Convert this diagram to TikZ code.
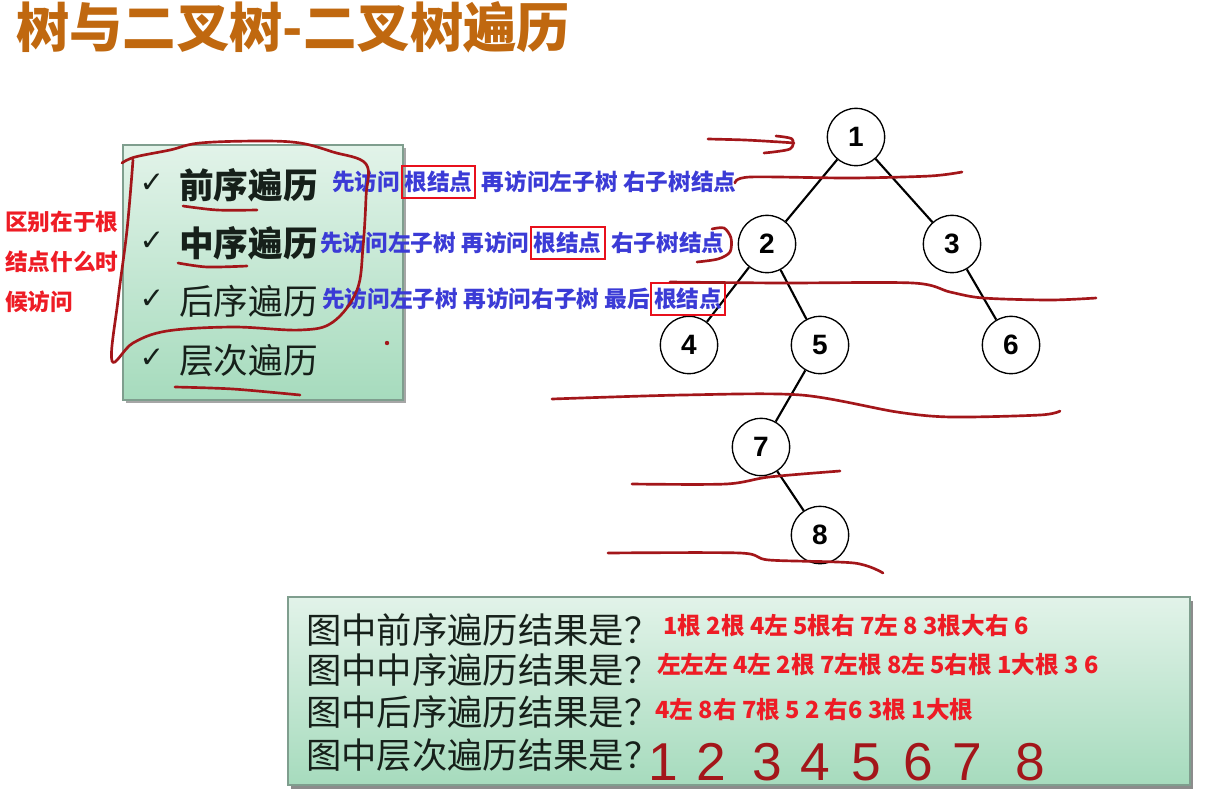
\documentclass[tikz,border=0pt]{standalone}
\usepackage{fontspec}
\setmainfont{Noto Sans CJK SC}
\newfontfamily\dv{DejaVu Sans}
\newfontfamily\lib{Liberation Sans}
\definecolor{titlec}{HTML}{C0680F}
\definecolor{inkred}{HTML}{A3161A}
\definecolor{ansred}{HTML}{EE1C25}
\definecolor{bluet}{HTML}{3B3BD6}
\definecolor{boxred}{HTML}{E8101C}
\definecolor{paneltop}{HTML}{E2F3E9}
\definecolor{panelbot}{HTML}{A6DBBD}
\definecolor{panelline}{HTML}{7F9E8E}
\definecolor{itemc}{HTML}{16201A}
\tikzset{
  tnode/.style={circle, draw, line width=1pt, fill=white, minimum size=43pt, inner sep=0pt,
    font=\lib\bfseries\fontsize{21}{21}\selectfont},
  tedge/.style={line width=1.6pt},
  ink/.style={draw=inkred, line width=2pt, line cap=round, line join=round},
  itemtext/.style={anchor=west, inner sep=0pt, text=itemc, font=\fontsize{26}{26}\selectfont},
  chk/.style={inner sep=0pt, text=itemc, font=\dv\bfseries\fontsize{22}{22}\selectfont},
  bluetext/.style={anchor=west, inner sep=0pt, text=bluet, font=\bfseries\fontsize{17}{17}\selectfont},
  redbox/.style={anchor=west, inner xsep=2.2pt, inner ysep=3.5pt, draw=boxred, line width=1.5pt, text=bluet, font=\bfseries\fontsize{17}{17}\selectfont},
  notetext/.style={anchor=west, inner sep=0pt, text=ansred, font=\bfseries\fontsize{17}{17}\selectfont},
  qtext/.style={anchor=west, inner sep=0pt, text=itemc, font=\fontsize{26.5}{26.5}\selectfont},
  anstext/.style={anchor=west, inner sep=0pt, text=ansred, font=\bfseries\fontsize{17.7}{17.7}\selectfont},
  hwtext/.style={inner sep=0pt, text=inkred, font=\lib\fontsize{40}{40}\selectfont},
  panel/.style={draw=panelline, line width=1.2pt, top color=paneltop, bottom color=panelbot},
}
\begin{document}
\begin{tikzpicture}[x=0.75pt,y=-0.75pt]
\useasboundingbox (0,0) rectangle (1207,804);
\fill[white] (0,0) rectangle (1207,804);

% title
\node[anchor=west, inner sep=0pt, text=titlec, font=\bfseries\fontsize{40}{40}\selectfont] (title) at (16,27) {树与二叉树-二叉树遍历};

% left panel
\fill[black!35] (126,148) rectangle (406,403);
\path[panel] (123,145) rectangle (403,400);
\node[chk] (c1) at (152,183) {✓};
\node[chk] (c2) at (152,241) {✓};
\node[chk] (c3) at (152,299) {✓};
\node[chk] (c4) at (152,358) {✓};
\node[itemtext] (i1) at (179,185) {\bfseries 前序遍历};
\node[itemtext] (i2) at (179,243) {\bfseries 中序遍历};
\node[itemtext] (i3) at (179,301) {后序遍历};
\node[itemtext] (i4) at (179,360) {层次遍历};

% left red note
\node[notetext] (n1) at (5,222) {区别在于根};
\node[notetext] (n2) at (5,262) {结点什么时};
\node[notetext] (n3) at (5,302) {候访问};

% bottom panel
\fill[black!45] (291,601) rectangle (1193,789);
\path[panel] (288,597) rectangle (1190,785);
\node[qtext] (q1) at (306,630) {图中前序遍历结果是？};
\node[qtext] (q2) at (306,670) {图中中序遍历结果是？};
\node[qtext] (q3) at (306,712) {图中后序遍历结果是？};
\node[qtext] (q4) at (306,755) {图中层次遍历结果是？};
\node[anstext] (a1) at (663,626) {1根 2根 4左 5根右 7左 8 3根大右 6};
\node[anstext] (a2) at (657,665) {左左左 4左 2根 7左根 8左 5右根 1大根 3 6};
\node[anstext] (a3) at (655,710) {4左 8右 7根 5 2 右6 3根 1大根};
\node[hwtext] (d1) at (663,762) {1};
\node[hwtext] (d2) at (711,762) {2};
\node[hwtext] (d3) at (767,762) {3};
\node[hwtext] (d4) at (815,762) {4};
\node[hwtext] (d5) at (866,762) {5};
\node[hwtext] (d6) at (918,762) {6};
\node[hwtext] (d7) at (967,762) {7};
\node[hwtext] (d8) at (1030,762) {8};

% tree
\node[tnode] (t1) at (856,137) {1};
\node[tnode] (t2) at (767,244) {2};
\node[tnode] (t3) at (952,244) {3};
\node[tnode] (t4) at (689,345) {4};
\node[tnode] (t5) at (820,345) {5};
\node[tnode] (t6) at (1011,345) {6};
\node[tnode] (t7) at (761,447) {7};
\node[tnode] (t8) at (820,535) {8};
\draw[tedge] (t1) -- (t2);
\draw[tedge] (t1) -- (t3);
\draw[tedge] (t2) -- (t4);
\draw[tedge] (t2) -- (t5);
\draw[tedge] (t3) -- (t6);
\draw[tedge] (t5) -- (t7);
\draw[tedge] (t7) -- (t8);

% blue explanations
\node[bluetext] (b1a) at (332,182) {先访问};
\node[redbox] (b1b) at (b1a.east) {根结点};
\node[bluetext] (b1c) at (b1b.east) {\ 再访问左子树 右子树结点};
\node[bluetext] (b2a) at (320,243) {先访问左子树 再访问};
\node[redbox] (b2b) at (b2a.east) {根结点};
\node[bluetext] (b2c) at (b2b.east) {\ 右子树结点};
\node[bluetext] (b3a) at (322,299) {先访问左子树 再访问右子树 最后};
\node[redbox] (b3b) at (b3a.east) {根结点};

% handwritten ink
\draw[ink] plot[smooth, tension=0.6] coordinates {(122,163) (135,157) (170,150) (200,143) (260,141) (300,143) (333,152) (366,164) (366,197) (363,247) (357,290) (333,322) (300,330) (233,327) (167,331) (133,343) (112,361) (118,300) (127,230) (133,160)};
\draw[ink] plot[smooth] coordinates {(183,206) (217,210) (257,210)};
\draw[ink] plot[smooth] coordinates {(178,263) (207,267) (247,266)};
\draw[ink] plot[smooth] coordinates {(175,387) (233,389) (300,395)};
\fill[inkred] (387,343) circle (2.2);
\draw[ink] plot[smooth] coordinates {(708,139) (745,140) (780,142) (794,143)};
\draw[ink] plot[smooth] coordinates {(776,136) (792,139) (790,149) (764,153)};
\draw[ink] plot[smooth] coordinates {(735,183) (750,177) (850,178) (930,176) (962,172)};
\draw[ink] plot[smooth] coordinates {(712,229) (724,228) (731,238) (730,252) (718,259) (697,262)};
\draw[ink] plot[smooth] coordinates {(670,282) (780,283) (913,283) (950,292) (983,298) (1050,300) (1096,298)};
\draw[ink] plot[smooth] coordinates {(552,399) (683,395) (801,395) (897,412) (951,417) (1040,415) (1060,411)};
\draw[ink] plot[smooth] coordinates {(632,484) (726,484) (769,477) (840,471)};
\draw[ink] plot[smooth] coordinates {(608,553) (740,553) (769,560) (854,563) (883,573)};
\end{tikzpicture}
\end{document}
